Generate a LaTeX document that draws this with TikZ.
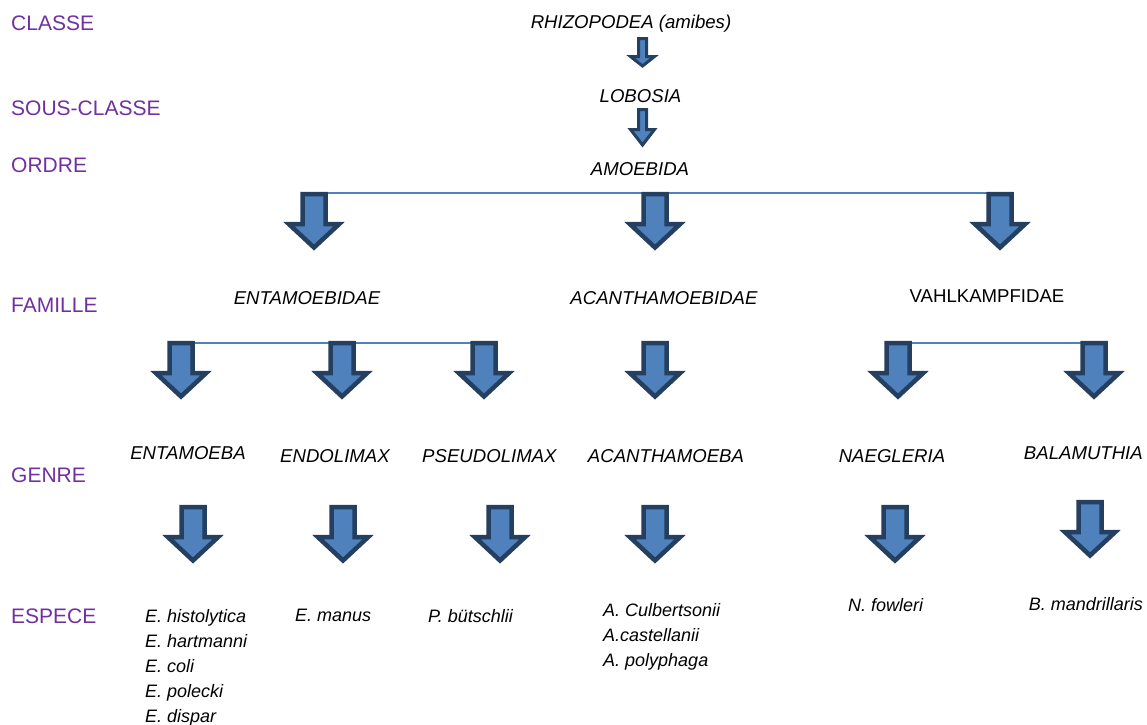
\documentclass[tikz,border=0pt]{standalone}
\usepackage{fontspec}
\setmainfont{Liberation Sans}
\definecolor{labcol}{RGB}{112,48,160}
\definecolor{arrfill}{RGB}{79,129,189}
\definecolor{arrline}{RGB}{36,63,96}
\definecolor{linkcol}{RGB}{79,129,189}
\tikzset{
  labtext/.style={font=\fontsize{21}{25}\selectfont, text=labcol, inner sep=0pt, anchor=base west},
  taxon/.style={font=\fontsize{18.6}{22}\selectfont\itshape, inner sep=0pt, anchor=base},
  species/.style={font=\fontsize{18}{25}\selectfont\itshape, inner sep=0pt, anchor=north west, align=left},
  blockarr/.style={fill=arrfill, draw=arrline, line width=4.5pt, line join=miter, miter limit=10},
  thinarr/.style={fill=arrfill, draw=arrline, line width=3pt, line join=miter, miter limit=10},
  linkline/.style={draw=linkcol, line width=1.8pt}
}
% big block arrow: #1 = centre x, #2 = top y
\newcommand\BlockArr[2]{%
  \begin{scope}[shift={(#1,#2)}]
    \path[blockarr] (-11.5,2.2) -- (11.5,2.2) -- (11.5,32.2) -- (25,32.2) -- (0,55.5) -- (-25,32.2) -- (-11.5,32.2) -- cycle;
  \end{scope}}
% small arrow: #1 = centre x, #2 = top y, #3 = shaft length, #4 = total length
\newcommand\ThinArr[4]{%
  \begin{scope}[shift={(#1,#2)}]
    \path[thinarr] (-4,1.5) -- (4,1.5) -- (4,#3+1.5) -- (12,#3+1.5) -- (0,#4-2) -- (-12,#3+1.5) -- (-4,#3+1.5) -- cycle;
  \end{scope}}
\begin{document}
\begin{tikzpicture}[x=1pt,y=-1pt]
\useasboundingbox (0,0) rectangle (1147,724);

% rank labels
\node[labtext] (lclasse) at (11,30) {CLASSE};
\node[labtext] (lsous) at (11,115) {SOUS-CLASSE};
\node[labtext] (lordre) at (11,172) {ORDRE};
\node[labtext] (lfam) at (11,312.5) {FAMILLE};
\node[labtext] (lgenre) at (11,482) {GENRE};
\node[labtext] (lesp) at (11,623.5) {ESPECE};

% taxa
\node[taxon] (rhizo) at (631,28) {RHIZOPODEA (amibes)};
\node[taxon] (lobo) at (640.5,102.5) {LOBOSIA};
\node[taxon] (amoe) at (640,175.5) {AMOEBIDA};

\node[taxon] (entfam) at (307,304.5) {ENTAMOEBIDAE};
\node[taxon] (acafam) at (664,304.5) {ACANTHAMOEBIDAE};
\node[taxon, font=\fontsize{18.6}{22}\selectfont] (vahfam) at (987,302.5) {VAHLKAMPFIDAE};

\node[taxon] (gent) at (188,459) {ENTAMOEBA};
\node[taxon] (gendo) at (335,462) {ENDOLIMAX};
\node[taxon, anchor=base west] (gpseu) at (422,462) {PSEUDOLIMAX};
\node[taxon] (gaca) at (666,462) {ACANTHAMOEBA};
\node[taxon] (gnae) at (892,462) {NAEGLERIA};
\node[taxon, anchor=base east] (gbal) at (1143,459) {BALAMUTHIA};

% species
\node[species] (sent) at (145,609) {E. histolytica\\E. hartmanni\\E. coli\\E. polecki\\E. dispar};
\node[species] (sendo) at (295,609) {E. manus};
\node[species] (spseu) at (428,609) {P. bütschlii};
\node[species] (saca) at (603,603) {A. Culbertsonii\\A.castellanii\\A. polyphaga};
\node[species] (snae) at (848,598) {N. fowleri};
\node[species, anchor=north east] (sbal) at (1143,597) {B. mandrillaris};

% connector lines (behind the arrows)
\coordinate (r1a) at (314,193);
\coordinate (r1c) at (1000,193);
\coordinate (r2a) at (181,343);
\coordinate (r2c) at (484,343);
\coordinate (r2d) at (898,343);
\coordinate (r2e) at (1094,343);
\draw[linkline] (r1a) -- (r1c);
\draw[linkline] (r2a) -- (r2c);
\draw[linkline] (r2d) -- (r2e);

% small arrows
\ThinArr{642.5}{37}{18}{31}
\ThinArr{642.5}{108}{20}{39}

% row 1
\BlockArr{314}{192}
\BlockArr{655}{192}
\BlockArr{1000}{192}
% row 2
\BlockArr{181}{341}
\BlockArr{342}{341}
\BlockArr{484}{341}
\BlockArr{655}{341}
\BlockArr{898}{341}
\BlockArr{1094}{341}
% row 3
\BlockArr{193}{505}
\BlockArr{343}{505}
\BlockArr{500}{505}
\BlockArr{655}{505}
\BlockArr{895}{505}
\BlockArr{1090}{500}
\end{tikzpicture}
\end{document}
